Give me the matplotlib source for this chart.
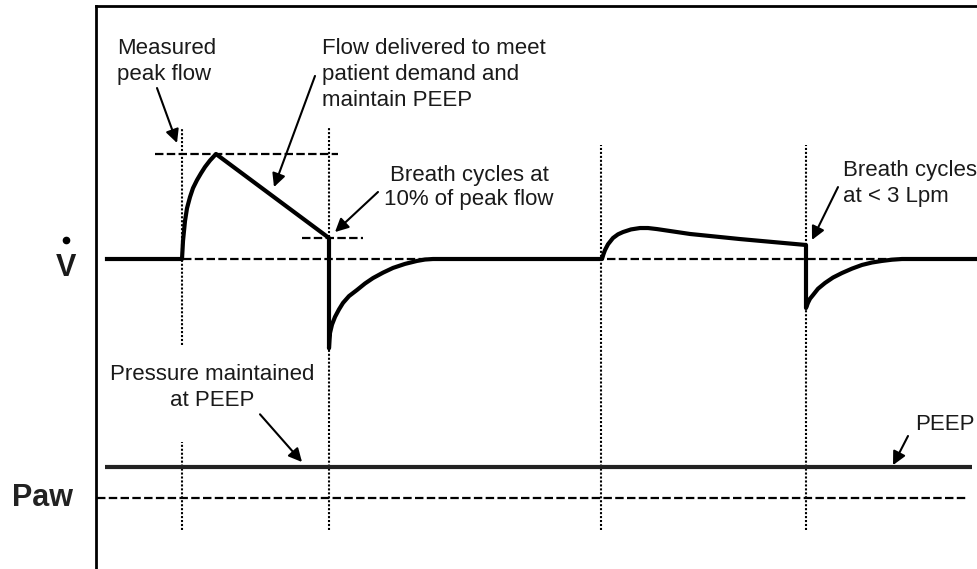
import matplotlib.pyplot as plt
from matplotlib.lines import Line2D

plt.rcParams['font.family'] = ['Liberation Sans', 'DejaVu Sans']

# flow trace (time in s, flow in L/min)
flow_t = [0.11, 0.86, 0.865, 0.87, 0.88, 0.89, 0.91, 0.94, 0.97, 1.01, 1.05, 1.09, 1.14, 1.20,
          2.33, 2.33, 2.335, 2.34, 2.36, 2.39, 2.43, 2.47, 2.53, 2.61, 2.69, 2.77,
          2.87, 2.97, 3.09, 3.21, 3.29, 3.37,
          5.06, 5.075, 5.09, 5.12, 5.17, 5.22, 5.27, 5.35, 5.44, 5.52, 5.61, 5.94, 6.44, 7.10,
          7.10, 7.12, 7.14, 7.17, 7.22, 7.29, 7.37, 7.46, 7.56, 7.66, 7.76, 7.86, 7.96,
          8.06, 8.79]
flow_v = [0, 0, 5, 10.3, 16, 21.7, 29, 35.4, 40.5, 45.1, 49, 52.6, 56.3, 60,
          12, -51, -46, -42.3, -37.5, -33.1, -28.8, -25.1, -21.2, -17.7, -14, -10.9,
          -7.8, -5.1, -2.8, -1.1, -0.3, 0,
          0, 2.8, 5.1, 8.4, 12.0, 14.1, 15.4, 16.9, 17.7, 17.7, 17.1, 14.3, 11.4, 8.0,
          -28, -25, -22.7, -20.6, -17, -13.7, -10.6, -8.0, -5.5, -3.4, -2, -1.1, -0.4,
          0, 0]

# airway pressure (cmH2O)
peep = 5
paw_start, paw_end = 0.09, 8.76
zero_start, zero_end = 0.01, 8.71

# breath start / cycle times and reference levels
breath_marks = [0.86, 2.33, 5.05, 7.10]
peak_flow = 60
cycle_flow = 12

fig = plt.figure(figsize=(9.77, 5.69), dpi=100)
ax = fig.add_axes([96 / 977, 0, 881 / 977, 563 / 569])
ax.set_xlim(0, 8.81)
ax.set_ylim(-177.14, 144.57)
ax.set_xticks([])
ax.set_yticks([])
for side in ['right', 'bottom']:
    ax.spines[side].set_visible(False)
for side in ['left', 'top']:
    ax.spines[side].set_linewidth(2)

pa = ax.twinx()
pa.set_ylim(-11.45, 79.35)
pa.set_yticks([])
for s in pa.spines.values():
    s.set_visible(False)

dash = (0, (3.8, 1.5))
dot = (0, (1, 0.9))

# reference lines
ax.hlines(0, breath_marks[0] + 0.01, 8.69, color='black', lw=1.6, linestyle=dash)
ax.hlines(peak_flow, 0.59, 2.42, color='black', lw=1.6, linestyle=dash)
ax.hlines(cycle_flow, 2.06, 2.67, color='black', lw=1.6, linestyle=dash)

ax.vlines(breath_marks[0], -49.1, 74.9, color='black', lw=1.5, linestyle=dot)
ax.vlines(breath_marks[0], -154.9, -104.6, color='black', lw=1.5, linestyle=dot)
ax.vlines(breath_marks[1], -154.9, 74.9, color='black', lw=1.5, linestyle=dot)
ax.vlines(breath_marks[2:], -154.9, 65.1, color='black', lw=1.5, linestyle=dot)

# traces
ax.plot(flow_t, flow_v, color='black', lw=3, solid_joinstyle='round')
pa.hlines(peep, paw_start, paw_end, color='#222222', lw=3)
pa.hlines(0, zero_start, zero_end, color='black', lw=1.6, linestyle=dash)

fs = 16
ls = 1.32
txt = '#1a1a1a'
arrow = dict(arrowstyle='-|>', color='black', lw=1.5, mutation_scale=20,
             shrinkA=0, shrinkB=0)

ax.text(0.21, 126.3, 'Measured\npeak flow', fontsize=fs, va='top', linespacing=ls,
        color=txt)
ax.annotate('', xy=(0.81, 66.3), xytext=(0.61, 97.7), arrowprops=arrow)

ax.text(2.26, 126.3, 'Flow delivered to meet\npatient demand and\nmaintain PEEP',
        fontsize=fs, va='top', linespacing=ls, color=txt)
ax.annotate('', xy=(1.78, 41.1), xytext=(2.19, 104.6), arrowprops=arrow)

ax.text(3.73, 53.7, 'Breath cycles at\n10% of peak flow', fontsize=fs,
        va='top', ha='center', multialignment='center', linespacing=1.2,
        color=txt)
ax.annotate('', xy=(2.39, 15.4), xytext=(2.82, 38.3), arrowprops=arrow)

ax.text(7.47, 56.5, 'Breath cycles\nat < 3 Lpm', fontsize=fs, va='top',
        linespacing=ls, color=txt)
ax.annotate('', xy=(7.16, 10.9), xytext=(7.42, 41.1), arrowprops=arrow)

pa.text(1.16, 21.6, 'Pressure maintained\nat PEEP', fontsize=fs, va='top',
        ha='center', multialignment='center', linespacing=ls, color=txt)
pa.annotate('', xy=(2.06, 5.8), xytext=(1.64, 13.5), arrowprops=arrow)

pa.text(8.19, 13.5, 'PEEP', fontsize=fs, va='top', color=txt)
pa.annotate('', xy=(7.97, 5.3), xytext=(8.12, 10.0), arrowprops=arrow)

# trace labels
fig.text(66 / 977, 1 - 268 / 569, 'V', fontsize=22, fontweight='bold',
         ha='center', va='center', color=txt)
fig.add_artist(Line2D([66 / 977], [1 - 240 / 569], marker='o', ms=4.5,
                      color='black', transform=fig.transFigure))
fig.text(42 / 977, 1 - 498 / 569, 'Paw', fontsize=22, fontweight='bold',
         ha='center', va='center', color='#222222')

fig.savefig('out.png', dpi=100)
